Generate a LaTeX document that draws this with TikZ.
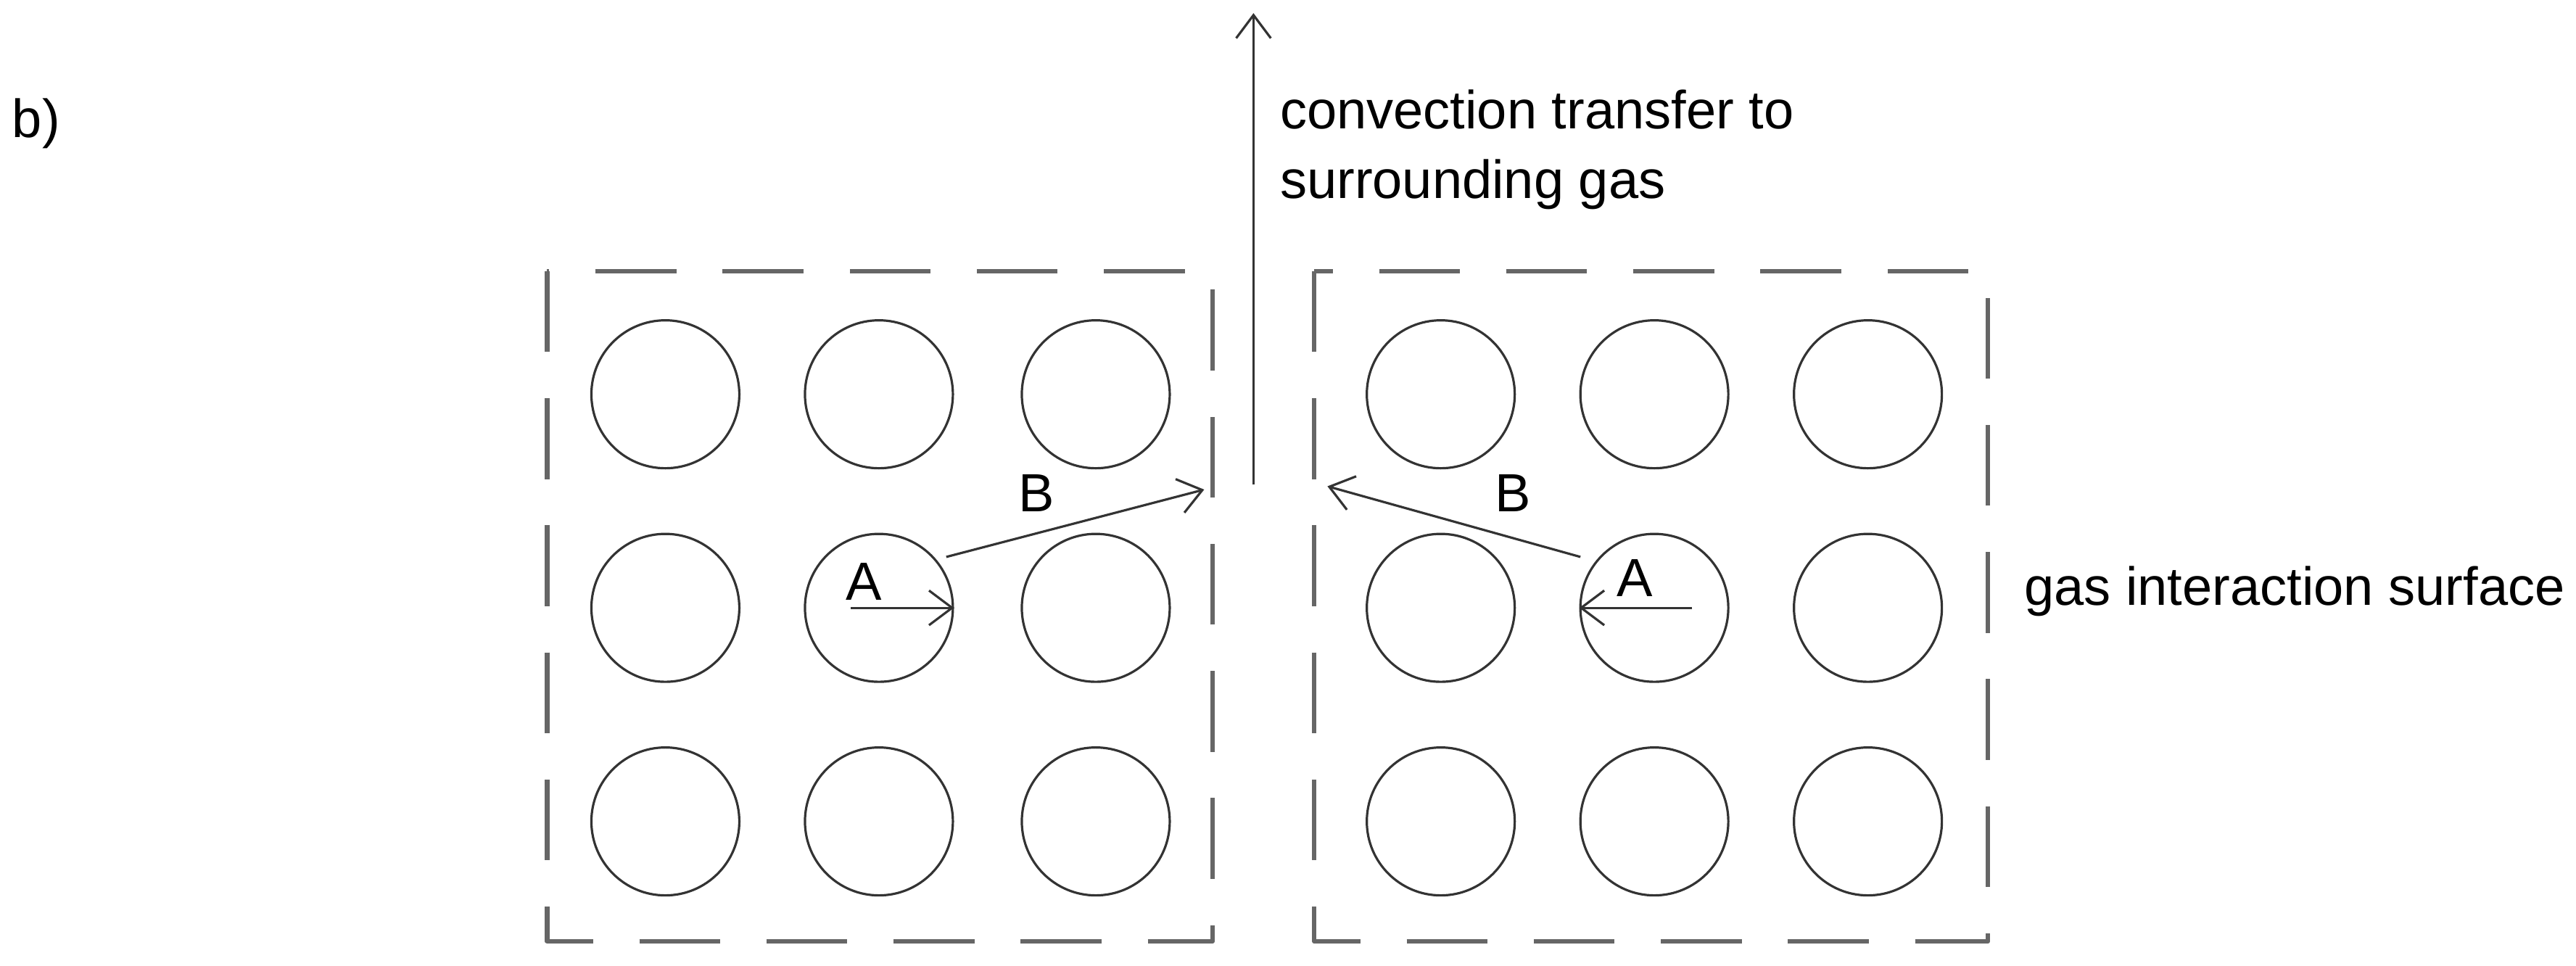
\documentclass[tikz,border=0pt]{standalone}
\usepackage{fontspec}
\setmainfont{Liberation Sans}
\usetikzlibrary{positioning,arrows.meta}
\tikzset{%
	grain/.style={%
		circle, draw=black!80, thin, minimum size=0.9cm, inner sep=0pt%
	},%
	zone/.style={%
		draw=black!60, thick, dash pattern=on 14pt off 8pt%
	},%
	pfeil/.style={%
		-{Straight Barb[length=4pt,width=6pt]}, draw=black!80%
	},%
	lbl/.style={%
		font=\fontsize{9.3}{11}\selectfont, inner sep=1pt%
	},%
}
\begin{document}
\begin{tikzpicture}[x=0.01cm, y=-0.01cm, line join=round]
	\useasboundingbox (0,0) rectangle (1568,588);
	% the two particle zones
	\draw [zone] (333,165) rectangle (738,573);
	\draw [zone] (800,165) rectangle (1210,573);

	% particles
	\foreach \row/\py in {1/240, 2/370, 3/500} {
		\foreach \col/\px in {1/405, 2/535, 3/667} {
			\node [grain] (l\row\col) at (\px,\py) {};
		}
		\foreach \col/\px in {1/877, 2/1007, 3/1137} {
			\node [grain] (r\row\col) at (\px,\py) {};
		}
	}

	% convection arrow
	\coordinate (cbot) at (763,295);
	\coordinate (ctop) at (763,8);
	\draw [pfeil] (cbot) -- (ctop);
	\node [lbl, anchor=west, align=left] (conv) at (775,91) {convection transfer to\\[1pt]surrounding gas};

	\node [lbl] (sub) at (22,75) {b)};
	\node [lbl, anchor=west] (surf) at (1228,360) {gas interaction surface};

	% left paths
	\coordinate (la0) at (518,370);
	\coordinate (lb0) at (576,339);
	\coordinate (lb1) at (733,298);
	\draw [pfeil] (la0) -- (l22.east);
	\draw [pfeil] (lb0) -- (lb1);
	\node [lbl] (lA) at (526,354) {A};
	\node [lbl] (lB) at (631,300) {B};

	% right paths
	\coordinate (ra0) at (1030,370);
	\coordinate (rb0) at (962,339);
	\coordinate (rb1) at (808,296);
	\draw [pfeil] (ra0) -- (r22.west);
	\draw [pfeil] (rb0) -- (rb1);
	\node [lbl] (rA) at (995,352) {A};
	\node [lbl] (rB) at (921,300) {B};
\end{tikzpicture}
\end{document}
